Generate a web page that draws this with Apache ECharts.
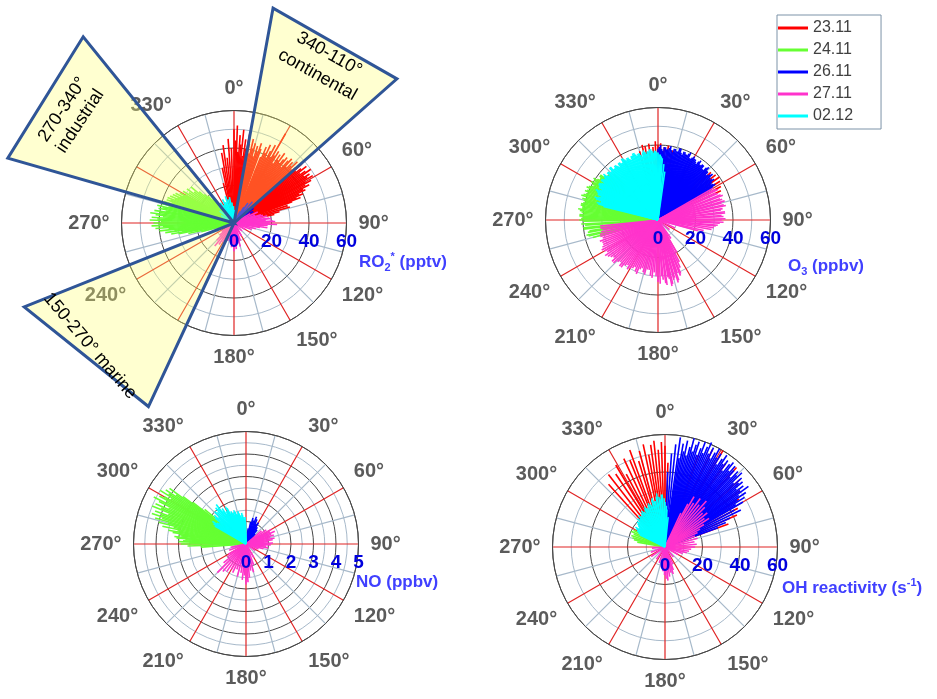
<!DOCTYPE html>
<html><head><meta charset="utf-8">
<script src="https://cdn.jsdelivr.net/npm/echarts@6/dist/echarts.min.js"></script>
<style>html,body{margin:0;padding:0;background:#fff}#c{width:937px;height:699px}</style>
</head><body><div id="c"></div>
<script>
// ---------- categories / legend ----------
const dates = ['23.11', '24.11', '26.11', '27.11', '02.12'];
const colors = ['#ff0000', '#66ff33', '#0000ff', '#ff33cc', '#00ffff'];

// ---------- data: [wind direction (deg), value] ----------
// RO2* (pptv)
const ro2_2311 = [[345,22],[348,30],[350,38],[352,42],[354,35],[356,45],[358,40],[0,50],[1,44],[2,52],[3,38],[4,47],[5,42],[6,50],[7,36],[8,45],[9,40],[10,48],[11,43],[12,38],[13,46],[14,41],[15,44],[16,37],[17,43],[18,40],[19,45],[20,42],[22,38],[23,44],[24,41],[25,46],[26,39],[27,43],[28,47],[29,40],[30,55],[31,42],[32,45],[33,38],[34,44],[35,41],[36,46],[37,40],[38,43],[39,45],[40,39],[41,44],[42,46],[43,41],[44,45],[45,43],[46,47],[47,42],[48,44],[49,48],[50,43],[51,46],[52,49],[53,44],[54,47],[55,50],[56,45],[57,48],[58,46],[59,49],[60,44],[61,47],[62,43],[63,45],[64,41],[65,42],[66,38],[67,40],[68,36],[69,38],[70,33],[72,30],[74,31],[76,25],[78,22]];
const ro2_2411 = [[255,18],[257,25],[259,30],[260,34],[261,28],[262,37],[263,32],[264,40],[265,35],[266,42],[267,38],[268,44],[269,40],[270,43],[271,39],[272,45],[273,41],[274,44],[275,38],[276,42],[277,45],[278,40],[279,43],[280,37],[281,41],[282,39],[283,42],[284,36],[285,40],[286,37],[287,39],[288,35],[289,38],[290,36],[291,38],[292,34],[293,37],[294,33],[295,36],[296,32],[297,35],[298,31],[299,33],[300,30],[302,32],[304,29],[306,31],[308,27],[310,30],[312,25],[314,22],[316,20],[318,17]];
const ro2_2611 = [[28,7],[32,10],[35,13],[38,9],[41,15],[44,11],[47,14],[50,10],[53,13],[56,9],[59,12],[62,8],[66,11],[70,7],[75,8],[80,6]];
const ro2_2711 = [[60,10],[65,14],[70,12],[73,15],[75,16],[78,18],[80,15],[82,19],[83,20],[85,17],[87,21],[88,22],[90,19],[92,23],[94,18],[95,16],[98,18],[100,14],[105,12],[110,10],[120,7],[135,6],[150,8],[160,10],[165,13],[170,11],[175,14],[178,12],[180,15],[183,11],[186,13],[190,9],[195,8],[200,10],[205,9],[210,12],[215,14],[220,16],[225,13],[230,10],[235,8]];
const ro2_0212 = [[290,6],[300,8],[310,10],[318,12],[322,9],[326,13],[330,11],[334,14],[338,12],[342,15],[346,13],[350,14],[354,11],[358,9],[2,7],[8,5]];

// O3 (ppbv)
const o3_2311 = [[345,38],[348,41],[350,40],[353,41],[356,39],[358,42],[0,40],[2,41],[5,39],[8,40],[12,38],[45,37],[48,38],[52,39],[55,40],[58,39],[62,38],[65,37]];
const o3_2411 = [[255,36],[257,38],[258,39],[260,38],[261,37],[263,40],[264,40],[266,39],[267,41],[269,40],[270,42],[271,41],[272,40],[273,42],[274,42],[275,40],[276,41],[277,42],[278,43],[279,41],[280,41],[281,42],[282,42],[283,41],[284,40],[285,41],[286,42],[287,40],[288,43],[289,42],[290,41],[291,40],[292,42],[293,41],[294,40],[295,42],[296,41],[297,40],[298,39],[299,40],[300,41],[301,39],[302,40],[303,41],[304,39],[305,38],[306,38],[307,39],[308,39],[309,37],[310,37],[312,36],[313,36],[316,34]];
const o3_2611 = [[0,38],[1,39],[2,40],[3,38],[4,37],[5,39],[6,39],[7,38],[8,38],[9,39],[10,40],[11,38],[12,37],[13,39],[14,39],[15,38],[16,38],[17,40],[18,40],[19,38],[20,37],[21,39],[22,39],[23,38],[24,38],[25,39],[26,40],[27,37],[28,37],[29,38],[30,39],[31,38],[32,38],[33,37],[34,36],[35,38],[36,39],[37,37],[38,37],[39,38],[40,38],[41,36],[42,36],[43,38],[44,39],[45,37],[46,37],[47,35],[48,36],[49,37],[50,38],[51,36],[52,35],[53,36],[54,37],[55,35],[56,34],[57,35],[58,36],[59,34],[60,33]];
const o3_2711 = [[60,34],[62,35],[63,36],[65,34],[66,35],[68,36],[69,37],[71,35],[72,36],[74,37],[75,35],[77,36],[78,37],[80,35],[81,34],[83,36],[84,36],[86,34],[87,35],[89,36],[90,34],[92,35],[93,33],[95,32],[96,31],[98,30],[100,29],[103,25],[105,22],[115,10],[130,8],[145,12],[150,20],[153,25],[155,28],[157,31],[158,32],[160,30],[161,34],[162,35],[164,32],[165,33],[167,35],[168,36],[169,32],[170,31],[172,35],[173,34],[175,32],[176,30],[178,34],[180,33],[182,30],[184,28],[186,31],[188,30],[190,27],[192,27],[194,30],[196,29],[198,27],[200,28],[202,31],[204,30],[206,28],[208,29],[210,30],[212,31],[214,29],[216,30],[218,32],[220,32],[222,30],[224,31],[226,33],[228,33],[230,31],[232,32],[234,33],[236,34],[238,32],[240,33],[242,34],[244,33],[246,32],[248,32],[250,33],[252,31],[254,32],[256,32],[258,31],[260,30],[262,31],[264,31]];
const o3_0212 = [[284,30],[285,33],[286,34],[287,32],[288,32],[289,35],[290,36],[291,34],[292,33],[293,35],[294,35],[295,36],[296,37],[297,35],[298,34],[299,36],[300,36],[301,37],[302,37],[303,36],[304,35],[305,37],[306,37],[307,36],[308,36],[309,37],[310,38],[311,36],[312,35],[313,37],[314,37],[315,36],[316,36],[317,38],[318,38],[319,36],[320,36],[321,37],[322,37],[323,36],[324,35],[325,37],[326,37],[327,36],[328,36],[329,38],[330,38],[331,37],[332,36],[333,37],[334,37],[335,36],[336,35],[337,37],[338,37],[339,38],[340,38],[341,37],[342,36],[343,37],[344,37],[345,36],[346,35],[347,37],[348,38],[349,37],[350,36],[351,37],[352,37],[353,38],[354,38],[355,37],[356,36],[357,37],[358,37],[359,36],[0,36],[1,35],[2,35],[3,34],[4,33],[6,30],[8,26]];

// NO (ppbv)
const no_2311 = [];
const no_2411 = [[266,2.0],[268,2.6],[270,2.9],[271,2.5],[272,3.0],[273,2.8],[274,2.7],[275,3.1],[276,3.2],[277,2.9],[278,3.0],[279,3.3],[280,3.5],[281,3.1],[282,3.8],[283,3.3],[284,4.0],[285,3.6],[286,4.2],[287,3.9],[288,4.4],[289,4.0],[290,4.3],[291,3.7],[292,4.5],[293,4.1],[294,4.4],[295,3.8],[296,4.3],[297,4.6],[298,4.0],[299,4.4],[300,4.2],[301,3.9],[302,4.5],[303,4.1],[304,4.3],[305,3.8],[306,4.2],[307,3.5],[308,3.0],[310,2.4]];
const no_2611 = [[8,0.7],[12,1.0],[15,1.2],[18,1.1],[21,1.3],[24,1.2],[27,1.0],[30,1.1],[34,0.9],[38,0.8],[42,0.6],[48,0.5]];
const no_2711 = [[50,0.9],[55,1.1],[60,1.3],[63,1.2],[66,1.4],[69,1.2],[72,1.3],[75,1.1],[78,1.3],[81,1.2],[84,1.0],[88,1.2],[92,1.1],[96,0.9],[100,1.0],[105,0.8],[112,0.6],[125,0.5],[150,0.7],[160,1.0],[165,1.3],[170,1.2],[174,1.5],[177,1.7],[180,1.8],[183,1.4],[186,1.6],[190,1.3],[195,1.5],[200,1.2],[205,1.4],[210,1.3],[215,1.5],[220,1.6],[225,1.8],[230,1.3],[235,1.0],[240,0.9],[250,0.8],[258,0.7]];
const no_0212 = [[300,1.6],[302,1.7],[304,1.8],[306,1.6],[308,1.5],[310,1.8],[312,1.9],[314,1.7],[316,2.0],[318,1.9],[320,2.1],[322,2.0],[323,2.2],[325,1.8],[326,1.9],[328,1.6],[329,1.7],[331,1.9],[332,1.8],[334,1.5],[335,1.6],[337,1.5],[338,1.4],[340,1.6],[341,1.5],[343,1.4],[344,1.3],[346,1.5],[347,1.4],[349,1.3],[350,1.2],[352,1.4],[353,1.3],[355,1.2],[356,1.1],[358,1.2],[359,1.0]];

// OH reactivity (s-1)
const oh_2311 = [[318,45],[322,49],[326,47],[329,51],[332,44],[335,52],[338,50],[340,55],[343,48],[345,53],[348,56],[350,50],[352,55],[354,57],[356,52],[358,56],[0,54],[2,45],[20,52],[26,58],[31,60],[36,55],[42,57],[48,54],[53,50],[57,47],[62,44],[66,42],[70,36]];
const oh_2411 = [[280,15],[283,17],[286,18],[289,19],[292,18],[295,20],[298,19],[301,17],[304,16],[307,14]];
const oh_2611 = [[2,40],[4,50],[6,55],[8,59],[9,48],[10,56],[11,52],[12,58],[13,50],[14,55],[15,60],[16,53],[17,57],[18,59],[19,52],[20,56],[21,60],[22,54],[23,58],[24,61],[25,55],[26,59],[27,53],[28,57],[29,60],[30,55],[31,58],[32,52],[33,56],[34,59],[35,54],[36,57],[37,51],[38,56],[39,58],[40,53],[41,57],[42,55],[43,51],[44,56],[45,54],[46,57],[47,50],[48,55],[49,52],[50,54],[51,49],[52,53],[53,50],[54,55],[55,48],[56,52],[57,46],[58,50],[59,44],[60,48],[62,42],[64,45],[66,38],[68,35],[70,30]];
const oh_2711 = [[25,20],[28,26],[30,31],[33,28],[36,32],[39,29],[42,33],[45,30],[48,27],[51,29],[54,26],[57,28],[60,24],[63,21],[66,19],[70,17],[75,18],[80,16],[85,17],[90,16],[95,14],[100,13],[105,12],[110,10],[120,8],[140,7],[155,10],[160,13],[163,15],[167,14],[171,16],[175,18],[178,17],[181,15],[185,13],[190,11],[200,9],[215,8],[235,9],[250,8],[265,7]];
const oh_0212 = [[296,15],[298,16],[300,17],[302,18],[304,19],[306,17],[308,18],[310,19],[312,20],[314,19],[316,21],[318,20],[320,22],[322,21],[324,20],[325,22],[327,23],[329,22],[330,21],[332,23],[333,24],[335,23],[336,22],[338,24],[339,25],[341,24],[342,23],[344,26],[345,27],[347,25],[348,25],[350,27],[351,29],[353,27],[354,26],[356,28],[357,28],[359,26],[0,24],[2,22],[3,20],[6,16]];

// wind sectors drawn on the RO2 panel: direction range (deg), reach (pptv units of that panel), label direction
const sectors = [
  {angles: [286, 321], reach: [125.5, 127.8], text: '270-340°\nindustrial', textA: 303.5, textR: 104, lh: 21},
  {angles: [10.3, 48.5], reach: [116.5, 116], text: '340-110°\ncontinental', textA: 29.4, textR: 97, lh: 24},
  {angles: [205, 248.2], reach: [108, 120.5], text: '150-270° marine', textA: 229.5, textR: 101, lh: 20}
];

// ---------- build ----------
const FONT = 'Arial, "Liberation Sans", sans-serif';
const plots = [
  {center: [234, 223], max: 60, major: 20, minor: 10, hidden: [30, 210, 300],
   data: [ro2_2311, ro2_2411, ro2_2611, ro2_2711, ro2_0212]},
  {center: [658, 220], max: 60, major: 20, minor: 10, hidden: [],
   data: [o3_2311, o3_2411, o3_2611, o3_2711, o3_0212]},
  {center: [246, 544], max: 5, major: 1, minor: 0.5, hidden: [],
   data: [no_2311, no_2411, no_2611, no_2711, no_0212]},
  {center: [665, 547], max: 60, major: 20, minor: 10, hidden: [],
   data: [oh_2311, oh_2411, oh_2611, oh_2711, oh_0212]}
];

const polar = [], angleAxis = [], radiusAxis = [], series = [];
plots.forEach((p, i) => {
  polar.push({center: p.center, radius: 112.5});
  polar.push({center: p.center, radius: 112.5});
  angleAxis.push({
    polarIndex: 2 * i, type: 'value', min: 0, max: 360, interval: 15, startAngle: 90, clockwise: true,
    axisLine: {lineStyle: {color: '#474747', width: 1}},
    axisTick: {show: false},
    axisLabel: {margin: 12, color: '#5b5b5b', fontSize: 20, fontWeight: 'bold', fontFamily: FONT,
      formatter: v => (v % 30 !== 0 || v >= 360 || p.hidden.indexOf(v) >= 0) ? '' : v + '°'},
    splitLine: {lineStyle: {color: ['#e02424', '#a7b9ca'], width: 1.2}}
  });
  angleAxis.push({
    polarIndex: 2 * i + 1, type: 'value', min: 0, max: 360, startAngle: 0,
    axisLine: {show: false}, axisTick: {show: false}, axisLabel: {show: false}, splitLine: {show: false}
  });
  radiusAxis.push({
    polarIndex: 2 * i, type: 'value', min: 0, max: p.max, interval: p.minor,
    axisLine: {show: false}, axisTick: {show: false}, axisLabel: {show: false},
    splitLine: {lineStyle: {color: ['#474747', '#a7b9ca'], width: 1}}
  });
  radiusAxis.push({
    polarIndex: 2 * i + 1, type: 'value', min: 0, max: p.max, interval: p.major, z: 10,
    axisLine: {show: false}, axisTick: {show: false}, splitLine: {show: false},
    axisLabel: {margin: -28, color: '#0000dd', fontSize: 19, fontWeight: 'bold', fontFamily: FONT}
  });
  p.data.forEach((d, j) => {
    series.push({
      type: 'custom', name: dates[j], coordinateSystem: 'polar', polarIndex: 2 * i,
      data: d, encode: {angle: 0, radius: 1}, itemStyle: {color: colors[j]}, silent: true,
      renderItem: (params, api) => {
        const a = api.value(0), r = api.value(1);
        const p0 = api.coord([0, a]), p1 = api.coord([r, a]);
        return {type: 'line', shape: {x1: p0[0], y1: p0[1], x2: p1[0], y2: p1[1]},
                style: {stroke: colors[j], lineWidth: 1.6}};
      }
    });
  });
});

const nameRich = {
  b: {fontSize: 17, fontWeight: 'bold', color: '#4040ff', fontFamily: FONT, lineHeight: 22},
  s: {fontSize: 11, fontWeight: 'bold', color: '#4040ff', fontFamily: FONT, lineHeight: 22, verticalAlign: 'bottom'},
  p: {fontSize: 11, fontWeight: 'bold', color: '#4040ff', fontFamily: FONT, lineHeight: 22, verticalAlign: 'top'}
};
const titles = [
  {text: '{b|RO}{s|2}{p|*}{b| (pptv)}', left: 359, top: 251},
  {text: '{b|O}{s|3}{b| (ppbv)}', left: 788, top: 255},
  {text: '{b|NO (ppbv)}', left: 356, top: 571},
  {text: '{b|OH reactivity (s}{p|-1}{b|)}', left: 782, top: 577}
].map(t => Object.assign(t, {padding: 0, textStyle: {rich: nameRich}}));

const chart = echarts.init(document.getElementById('c'));
chart.setOption({
  backgroundColor: '#ffffff',
  animation: false,
  title: titles,
  legend: {
    data: dates, orient: 'vertical', left: 777, top: 15, icon: 'rect', itemWidth: 30, itemHeight: 3,
    itemGap: 6, padding: [5, 28, 5, 1], borderColor: '#7d93a8', borderWidth: 1, backgroundColor: '#fff',
    textStyle: {color: '#404040', fontSize: 16, fontFamily: FONT}
  },
  polar, angleAxis, radiusAxis, series
});

// wind sectors on the first panel, placed through that panel's polar scale
const toPx = (r, a) => chart.convertToPixel({seriesIndex: 0}, [r, a]);
const graphics = [];
sectors.forEach(s => {
  const c = toPx(0, 0);
  graphics.push({
    type: 'polygon', z: 100,
    shape: {points: [c, toPx(s.reach[0], s.angles[0]), toPx(s.reach[1], s.angles[1])]},
    style: {fill: 'rgba(255,255,110,0.32)', stroke: '#2f5597', lineWidth: 3, lineJoin: 'miter'}
  });
  const tp = toPx(s.textR, s.textA);
  let rot = -s.textA;
  while (rot < -180) rot += 360;
  while (rot >= 180) rot -= 360;
  if (rot > 90) rot -= 180;
  if (rot < -90) rot += 180;
  graphics.push({
    type: 'text', z: 101, x: tp[0], y: tp[1], rotation: rot * Math.PI / 180,
    style: {text: s.text, fill: '#000', font: '18px ' + FONT, align: 'center', verticalAlign: 'middle', lineHeight: s.lh}
  });
});
chart.setOption({graphic: graphics});
</script>
</body></html>
